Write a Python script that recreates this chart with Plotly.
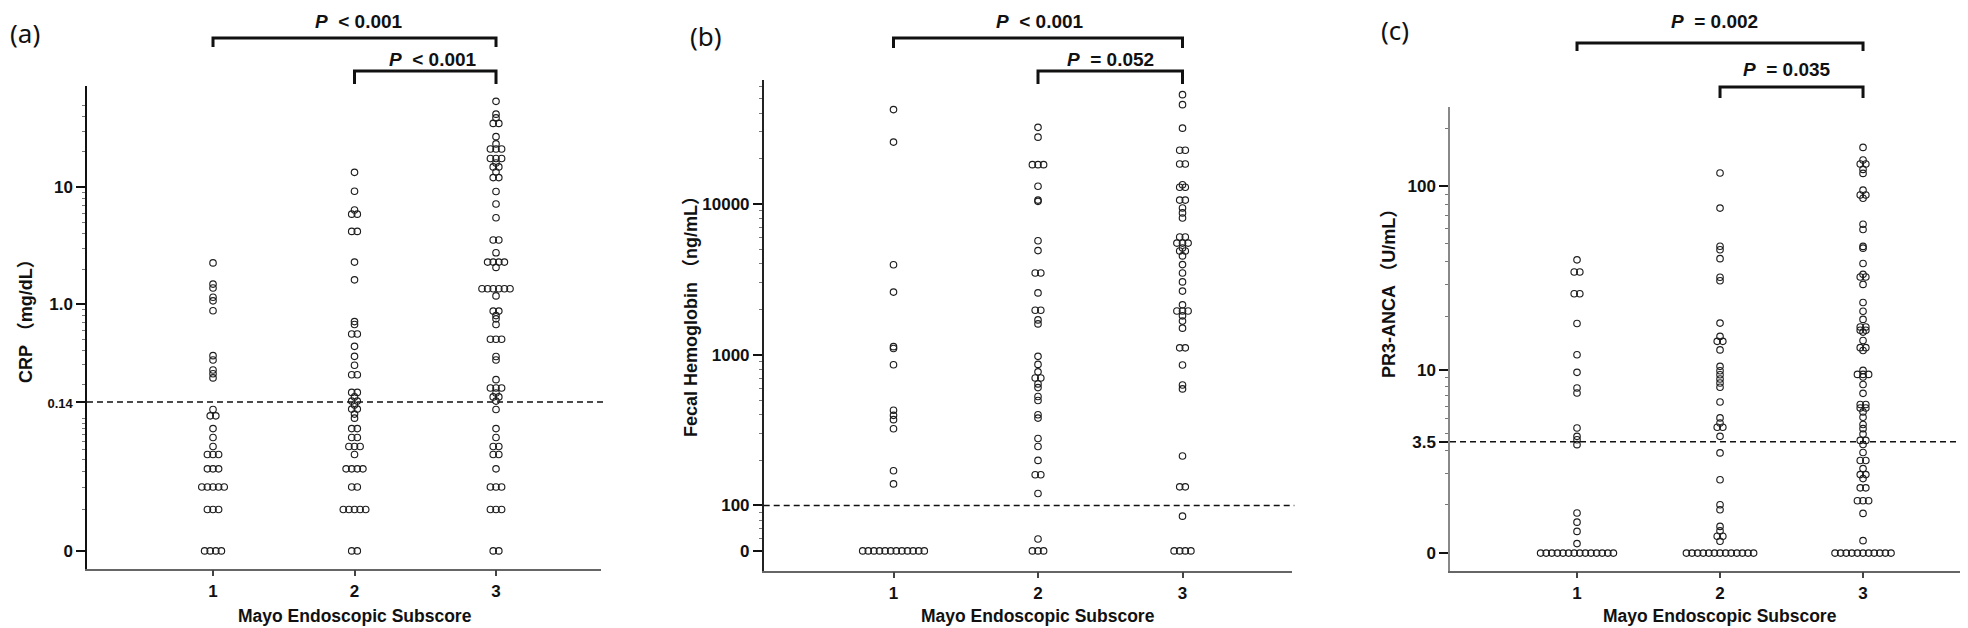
import numpy as np
import plotly.graph_objects as go

W, H = 1968, 628

# ---------------- data ----------------
categories = [1, 2, 3]
xtick_labels = ["1", "2", "3"]

# (a) CRP (mg/dL) by Mayo endoscopic subscore
crp_1 = [2.26, 1.49, 1.38, 1.15, 1.07, 0.88, 0.36, 0.33, 0.27, 0.25, 0.23, 0.12, 0.105, 0.105,
         0.08, 0.066, 0.054, 0.045, 0.045, 0.045, 0.032, 0.032, 0.032,
         0.02, 0.02, 0.02, 0.02, 0.02, 0.01, 0.01, 0.01, 0, 0, 0, 0]
crp_2 = [13.4, 9.25, 6.4, 5.9, 5.9, 4.2, 4.2, 2.3, 1.62, 0.71, 0.67, 0.555, 0.555, 0.434, 0.355,
         0.297, 0.245, 0.245, 0.171, 0.171, 0.156, 0.143, 0.143, 0.132, 0.121, 0.121, 0.109, 0.10,
         0.08, 0.08, 0.066, 0.066, 0.054, 0.054, 0.054, 0.045, 0.032, 0.032, 0.032, 0.032,
         0.02, 0.02, 0.01, 0.01, 0.01, 0.01, 0.01, 0, 0]
crp_3 = [54, 42, 39, 35, 35, 27, 23.4, 21.2, 21.2, 21.2, 17.6, 17.6, 17.6, 16.1, 14.9, 14.9, 13.5,
         12.1, 12.1, 9.2, 7.2, 5.5, 3.55, 3.55, 2.76, 2.3, 2.3, 2.3, 2.3, 2.07,
         1.36, 1.36, 1.36, 1.36, 1.36, 1.36, 1.18, 0.875, 0.875, 0.80, 0.75, 0.67, 0.5, 0.5, 0.5,
         0.354, 0.33, 0.222, 0.187, 0.187, 0.187, 0.169, 0.156, 0.156, 0.143, 0.12,
         0.08, 0.066, 0.054, 0.054, 0.045, 0.045, 0.032, 0.02, 0.02, 0.02, 0.01, 0.01, 0.01, 0, 0]

# (b) Fecal hemoglobin (ng/mL)
fhb_1 = [42200, 25700, 3950, 2600, 1130, 1100, 858, 428, 396, 371, 323, 170, 139,
         0, 0, 0, 0, 0, 0, 0, 0, 0, 0, 0, 0]
fhb_2 = [32200, 27700, 18200, 18200, 18200, 13100, 10600, 10400, 5700, 4900, 3480, 3480, 2570,
         1970, 1970, 1700, 1600, 975, 862, 770, 700, 700, 640, 605, 528, 497, 400, 380, 278, 246,
         199, 160, 160, 120, 60, 0, 0, 0]
fhb_3 = [53000, 45500, 31800, 22700, 22700, 18400, 18400, 13400, 12900, 12900, 10600, 10600, 9400,
         8710, 8060, 6030, 6030, 5500, 5500, 5500, 5100, 4870, 4870, 4520, 3960, 3480, 3040, 2640,
         2140, 1950, 1950, 1950, 1810, 1670, 1500, 1110, 1110, 855, 630, 593, 213, 133, 133, 85,
         0, 0, 0, 0]

# (c) PR3-ANCA (U/mL)
pr3_1 = [40.7, 35.0, 35.0, 26.7, 26.7, 18.3, 12.2, 9.65, 7.78, 7.26, 4.34, 3.81, 3.61, 3.33,
         0.77, 0.56, 0.37, 0.15] + [0] * 14
pr3_2 = [117.5, 76.7, 48.1, 46.1, 41.3, 32.8, 31.4, 18.4, 15.5, 14.55, 14.55, 13.0, 10.46, 9.86,
         9.34, 8.81, 8.34, 7.86, 6.39, 5.06, 4.69, 4.39, 4.39, 3.81, 2.90, 1.76, 0.98, 0.85,
         0.47, 0.38, 0.28, 0.28, 0.19] + [0] * 13
pr3_3 = [160, 137.5, 131, 131, 122.7, 116.9, 95.4, 89.9, 89.9, 86.5, 63, 59.1, 48, 47, 38.9,
         34.0, 32.9, 32.9, 30.0, 23.9, 21.4, 19.3, 17.5, 17.5, 16.8, 16.8, 16.4, 14.7, 13.4, 13.4,
         12.9, 9.9, 9.38, 9.38, 9.38, 9.05, 8.17, 7.22, 6.16, 6.16, 5.86, 5.86, 5.53, 5.11, 4.58,
         4.3, 3.95, 3.57, 3.57, 3.34, 2.92, 2.54, 2.54, 2.19, 1.95, 1.95, 1.80, 1.48, 1.48,
         1.09, 1.09, 1.09, 0.76, 0.20] + [0] * 11

# tick labels
crp_ticks = [10, 1, 0.14, 0]
crp_ticktext = ["10", "1.0", "<span style='font-size:13px'>0.14</span>", "0"]
fhb_ticks = [10000, 1000, 100, 0]
fhb_ticktext = ["10000", "1000", "100", "0"]
pr3_ticks = [100, 10, 3.5, 0]
pr3_ticktext = ["100", "10", "3.5", "0"]

crp_cutoff, fhb_cutoff, pr3_cutoff = 0.14, 100, 3.5

p_texts = {
    "a": ["&lt; 0.001", "&lt; 0.001"],
    "b": ["&lt; 0.001", "= 0.052"],
    "c": ["= 0.002", "= 0.035"],
}

# ---------------- axis transforms (log-type scales with a zero position) ----------------
def t_crp(v):
    return np.log10(np.asarray(v, float) + 0.008)

def t_fhb(v):
    v = np.asarray(v, float)
    return np.log10(np.where(v > 0, v, 50.0))

def t_pr3(v):
    return np.log10(np.asarray(v, float) + 1.25)

# ---------------- geometry ----------------
def px2x(p):
    return p / W

def px2y(p):
    return 1 - p / H

panels = [
    dict(key="a", cols=[crp_1, crp_2, crp_3], tf=t_crp, xdom=(79, 593), ydom=(560.7, 78),
         xr=(0.1095, 3.742), yr=(-2.2487, 1.8629), ticks=crp_ticks, ticktext=crp_ticktext,
         cutoff=crp_cutoff, ylinecolor="#111",
         minor=[k * 10.0 ** e for e in (-2, -1, 0, 1) for k in range(1, 10) if k * 10.0 ** e < 60
                and k * 10.0 ** e not in (1, 10)],
         ytitle="<b>CRP （mg/dL）</b>", ytitle_xy=(18, 309),
         label="(a)", label_xy=(17, 25),
         brackets=[(1, 3, 30, 39), (2, 3, 63, 76)], ptext_xy=[(351, 14), (425, 51)]),
    dict(key="b", cols=[fhb_1, fhb_2, fhb_3], tf=t_fhb, xdom=(755.7, 1283.7), ydom=(562.7, 72),
         xr=(0.1017, 3.7557), yr=(1.5676, 4.8216), ticks=fhb_ticks, ticktext=fhb_ticktext,
         cutoff=fhb_cutoff, ylinecolor="#222",
         minor=[k * 10.0 ** e for e in (1, 2, 3, 4) for k in range(2, 10) if 55 < k * 10.0 ** e < 62000],
         ytitle="<b>Fecal Hemoglobin （ng/mL）</b>", ytitle_xy=(683, 304),
         label="(b)", label_xy=(698, 28),
         brackets=[(1, 3, 30, 40), (2, 3, 63, 76)], ptext_xy=[(1032, 14), (1102, 51)]),
    dict(key="c", cols=[pr3_1, pr3_2, pr3_3], tf=t_pr3, xdom=(1442, 1965), ydom=(562.7, 99),
         xr=(0.1119, 3.769), yr=(0.0052, 2.4178), ticks=pr3_ticks, ticktext=pr3_ticktext,
         cutoff=pr3_cutoff, ylinecolor="#888",
         minor=[k * 10.0 ** e for e in (0, 1, 2) for k in range(1, 10) if k * 10.0 ** e < 250
                and k * 10.0 ** e not in (10, 100)],
         ytitle="<b>PR3-ANCA （U/mL）</b>", ytitle_xy=(1381, 281),
         label="(c)", label_xy=(1387, 22),
         brackets=[(1, 3, 35, 43), (2, 3, 79, 90)], ptext_xy=[(1706, 13), (1779, 62)]),
]

STEP_PX = 5.6
FONT = "Liberation Sans, Arial, Noto Sans CJK SC, sans-serif"

fig = go.Figure()
layout = dict(width=W, height=H, margin=dict(l=0, r=0, t=0, b=0),
              paper_bgcolor="white", plot_bgcolor="white", showlegend=False,
              font=dict(family=FONT, color="#111"))
shapes, annotations = [], []

for i, p in enumerate(panels):
    n = "" if i == 0 else str(i + 1)
    xa, ya = "x" + n, "y" + n
    dom_px = p["xdom"][1] - p["xdom"][0]
    step = STEP_PX / (dom_px / (p["xr"][1] - p["xr"][0]))
    for cat, vals in zip(categories, p["cols"]):
        counts = {}
        for v in vals:
            counts[v] = counts.get(v, 0) + 1
        xs, ys = [], []
        for v, c in counts.items():
            for j in range(c):
                xs.append(cat + (j - (c - 1) / 2) * step)
                ys.append(v)
        fig.add_trace(go.Scatter(
            x=xs, y=p["tf"](ys), mode="markers", xaxis=xa, yaxis=ya,
            marker=dict(symbol="circle-open", size=6.5, color="#1e1e1e", line=dict(width=1.15)),
            hoverinfo="skip"))

    layout["xaxis" + n] = dict(
        domain=[px2x(p["xdom"][0]), px2x(p["xdom"][1])], range=list(p["xr"]), anchor=ya,
        tickmode="array", tickvals=categories, ticktext=xtick_labels,
        showline=True, linecolor="#666", linewidth=1.5, ticks="outside", ticklen=6,
        tickwidth=1.5, tickcolor="#444", showgrid=False, zeroline=False,
        tickfont=dict(size=17, family=FONT, color="#111", weight="bold"))
    layout["yaxis" + n] = dict(
        domain=[px2y(p["ydom"][0]), px2y(p["ydom"][1])], range=list(p["yr"]), anchor=xa,
        tickmode="array", tickvals=list(p["tf"](p["ticks"])), ticktext=p["ticktext"],
        showline=True, linecolor=p["ylinecolor"], linewidth=1.5, ticks="outside", ticklen=9,
        tickwidth=1.5, tickcolor="#111", showgrid=False, zeroline=False,
        tickfont=dict(size=17, family=FONT, color="#111", weight="bold"),
        minor=dict(tickmode="array", tickvals=list(p["tf"](p["minor"])), ticks="outside",
                   ticklen=3, tickwidth=1, tickcolor="#777"))

    # threshold dashed line
    yc = float(p["tf"]([p["cutoff"]])[0])
    shapes.append(dict(type="line", xref=xa + " domain", yref=ya, x0=0, x1=1.005,
                       y0=yc, y1=yc, line=dict(color="#111", width=1.5, dash="6px,4px")))
    # significance brackets
    for (c0, c1, ytop, yleg), (tx, ty), txt in zip(p["brackets"], p["ptext_xy"], p_texts[p["key"]]):
        shapes.append(dict(type="path", xref=xa, yref="paper",
                           path=f"M {c0},{px2y(yleg)} L {c0},{px2y(ytop)} L {c1},{px2y(ytop)} L {c1},{px2y(yleg)}",
                           line=dict(color="#111", width=3)))
        annotations.append(dict(xref="paper", yref="paper", x=px2x(tx), y=px2y(ty),
                                text=f"<b><i>P</i>\u00a0 {txt}</b>", showarrow=False,
                                xanchor="center", yanchor="middle",
                                font=dict(size=19, family=FONT, color="#111")))
    # x title
    annotations.append(dict(xref=xa, yref="paper", x=2, y=px2y(608),
                            text="<b>Mayo Endoscopic Subscore</b>", showarrow=False,
                            xanchor="center", yanchor="middle",
                            font=dict(size=17.5, family=FONT, color="#111")))
    # y title
    annotations.append(dict(xref="paper", yref="paper", x=px2x(p["ytitle_xy"][0]),
                            y=px2y(p["ytitle_xy"][1]), text=p["ytitle"], textangle=-90,
                            showarrow=False, xanchor="center", yanchor="middle",
                            font=dict(size=18, family=FONT, color="#111")))
    # panel label
    annotations.append(dict(xref="paper", yref="paper", x=px2x(p["label_xy"][0]),
                            y=px2y(p["label_xy"][1]), text=p["label"], showarrow=False,
                            xanchor="center", yanchor="middle",
                            font=dict(size=26, family="Noto Sans, Open Sans, sans-serif", color="#111")))

layout["shapes"] = shapes
layout["annotations"] = annotations
fig.update_layout(**layout)
fig.write_html("out.html")
